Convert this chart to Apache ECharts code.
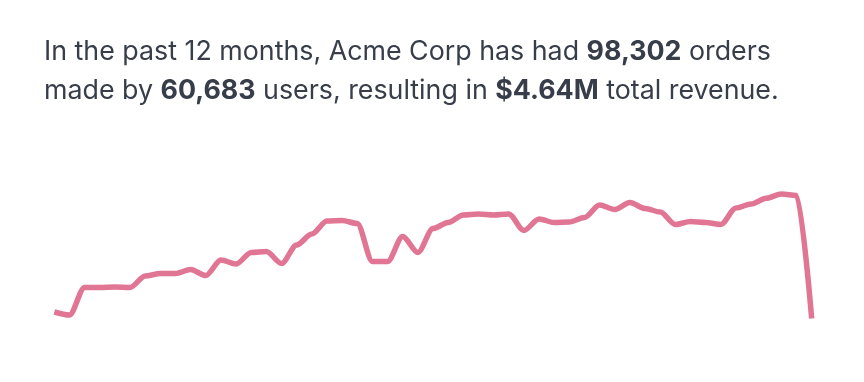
<!DOCTYPE html>
<html>
<head>
<meta charset="utf-8">
<style>
  html, body { margin: 0; padding: 0; background: #ffffff; }
  #chart { width: 864px; height: 382px; }
</style>
<script src="https://cdn.jsdelivr.net/npm/echarts@6/dist/echarts.min.js"></script>
</head>
<body>
<div id="chart"></div>
<script>
// Weekly revenue (in $K)
const weeks = [];
for (let i = 1; i <= 51; i++) weeks.push('W' + i);
const revenue = [
  30.4, 28.0, 50.0, 50.0, 50.4, 50.0, 59.2, 61.2, 61.2, 64.4,
  59.6, 72.0, 68.8, 78.0, 78.8, 69.2, 84.0, 92.8, 103.2, 103.6,
  101.2, 70.8, 70.8, 90.8, 78.0, 97.2, 102.0, 108.0, 108.8, 108.0,
  108.8, 95.6, 104.8, 102.0, 102.4, 106.0, 116.0, 112.4, 118.0, 113.2,
  110.4, 100.4, 102.8, 102.0, 100.4, 113.6, 116.8, 121.4, 124.8, 123.6,
  25.2
];
const summary = {
  orders: '98,302',
  users: '60,683',
  revenue: '$4.64M'
};

const chart = echarts.init(document.getElementById('chart'), null, { renderer: 'canvas' });
const font = 'Inter, "Noto Sans", sans-serif';
chart.setOption({
  animation: false,
  backgroundColor: '#ffffff',
  title: {
    left: 44,
    top: 32,
    padding: 0,
    text: '{n|In the past 12 months, Acme Corp has had }{b|' + summary.orders + '}{n| orders}\n' +
          '{n|made by }{b|' + summary.users + '}{n| users, resulting in }{b|' + summary.revenue + '}{n| total revenue.}',
    textStyle: {
      rich: {
        n: { fontFamily: font, fontSize: 26.8, fontWeight: 400, color: '#373e4a', lineHeight: 39.5 },
        b: { fontFamily: font, fontSize: 26.8, fontWeight: 700, color: '#373e4a', lineHeight: 39.5 }
      }
    }
  },
  grid: { left: 54.3, right: 52.3, top: 150, bottom: 32, containLabel: false },
  xAxis: {
    type: 'category',
    data: weeks,
    boundaryGap: false,
    show: false
  },
  yAxis: {
    type: 'value',
    min: 0,
    max: 160,
    show: false
  },
  series: [{
    type: 'line',
    data: revenue,
    smooth: 0.3,
    smoothMonotone: 'x',
    symbol: 'none',
    lineStyle: { color: '#e07594', width: 5.5, cap: 'butt', join: 'round' }
  }]
});
</script>
</body>
</html>
